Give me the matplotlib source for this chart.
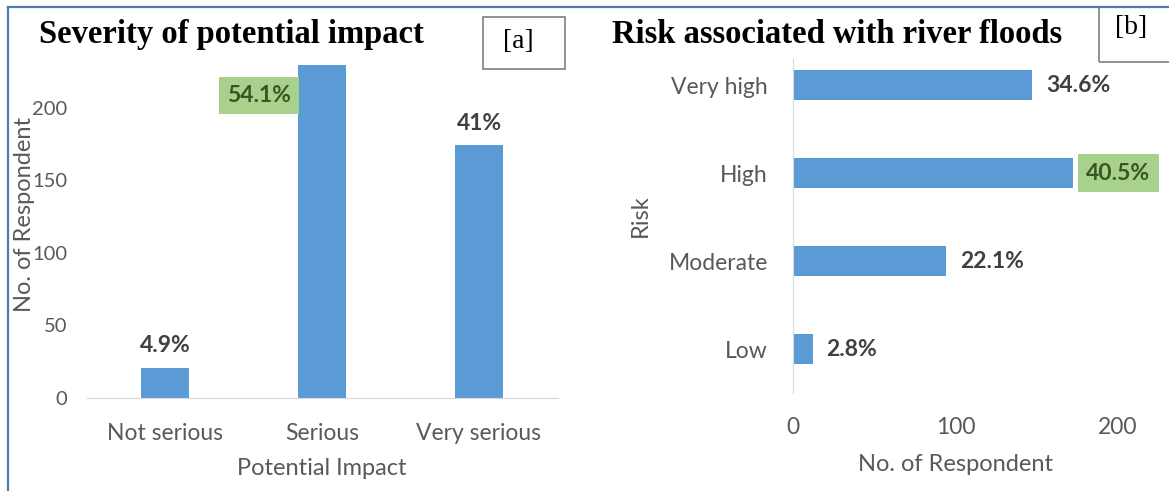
#!/usr/bin/env python3
"""Two Excel-style bar charts: severity of impact and flood risk"""
import matplotlib
matplotlib.use('Agg')
import matplotlib.pyplot as plt
from matplotlib.patches import Rectangle
from matplotlib.lines import Line2D

# Panel [a]
impact_cats = ['Not serious', 'Serious', 'Very serious']
impact_counts = [21, 229, 174]
impact_pct = ['4.9%', '54.1%', '41%']

# Panel [b] (bottom to top)
risk_cats = ['Low', 'Moderate', 'High', 'Very high']
risk_counts = [12, 94, 172, 147]
risk_pct = ['2.8%', '22.1%', '40.5%', '34.6%']

BLUE = '#5B9BD5'
GREEN = '#A9D18E'
GREY = '#595959'
DARK = '#404040'
SANS = ['Lato', 'DejaVu Sans']
SERIF = 'Liberation Serif'
TICK = 16.5
LAB = 17

plt.rcParams['font.family'] = SANS

fig = plt.figure(figsize=(11.69, 4.91), dpi=100)
W, H = 1169, 491


def fx(px):
    return px / W


def fy(py):
    return 1 - py / H


# ---- panel a ----
ax1 = fig.add_axes([fx(86.5), fy(398), 471 / W, 334 / H])
x = range(len(impact_cats))
ax1.bar(x, impact_counts, width=0.31, color=BLUE)
ax1.set_xlim(-0.5, 2.5)
ax1.set_ylim(0, 230)
ax1.set_yticks([0, 50, 100, 150, 200])
ax1.set_xticks(list(x))
ax1.set_xticklabels(impact_cats)
for s in ['top', 'right', 'left']:
    ax1.spines[s].set_visible(False)
ax1.spines['bottom'].set_color('#d9d9d9')
ax1.tick_params(axis='both', length=0, colors=GREY, labelsize=TICK)
ax1.tick_params(axis='y', pad=14, labelsize=14.5)
ax1.tick_params(axis='x', pad=18)
ax1.set_xlabel('Potential Impact', fontsize=LAB, color=GREY, labelpad=10)
ax1.set_ylabel('No. of Respondent', fontsize=LAB, color=GREY)
ax1.yaxis.set_label_coords((35 - 86.5) / 471, (398 - 215) / 334)

for i, (v, p) in enumerate(zip(impact_counts, impact_pct)):
    if i == 1:
        ax1.annotate(p, (i - 0.155, 208), xytext=(-5, 0), textcoords='offset points',
                     ha='right', va='center', fontsize=TICK, fontweight='bold',
                     color='#375623', annotation_clip=False,
                     bbox=dict(boxstyle='square,pad=0.35', fc=GREEN, ec='none'))
    else:
        ax1.annotate(p, (i, v), xytext=(0, 8), textcoords='offset points',
                     ha='center', va='bottom', fontsize=TICK, fontweight='bold',
                     color=DARK)

# ---- panel b ----
ax2 = fig.add_axes([fx(793), fy(393), 325 / W, 352 / H])
y = range(len(risk_cats))
ax2.barh(y, risk_counts, height=0.34, color=BLUE)
ax2.set_ylim(-0.5, 3.5)
ax2.set_xlim(0, 200)
ax2.set_xticks([0, 100, 200])
ax2.set_yticks(list(y))
ax2.set_yticklabels(risk_cats)
for s in ['top', 'right', 'bottom']:
    ax2.spines[s].set_visible(False)
ax2.spines['left'].set_color('#d9d9d9')
ax2.spines['left'].set_bounds(-0.5, 3.3)
ax2.tick_params(axis='both', length=0, colors=GREY, labelsize=TICK)
ax2.tick_params(axis='y', pad=18)
ax2.tick_params(axis='x', pad=17)
ax2.set_xlabel('No. of Respondent', fontsize=LAB, color=GREY, labelpad=12)
ax2.set_ylabel('Risk', fontsize=LAB, color=GREY)
ax2.yaxis.set_label_coords((651 - 793) / 325, (393 - 216) / 352)

for i, (v, p) in enumerate(zip(risk_counts, risk_pct)):
    if i == 2:
        ax2.annotate(p, (v, i), xytext=(10, 0), textcoords='offset points',
                     ha='left', va='center', fontsize=TICK, fontweight='bold',
                     color='#375623', annotation_clip=False,
                     bbox=dict(boxstyle='square,pad=0.35', fc=GREEN, ec='none'))
    else:
        ax2.annotate(p, (v, i), xytext=(10, 0), textcoords='offset points',
                     ha='left', va='center', fontsize=TICK, fontweight='bold',
                     color=DARK, annotation_clip=False)

# ---- titles, tags and frame ----
fig.text(fx(39), fy(43), 'Severity of potential impact', family=SERIF,
         fontweight='bold', fontsize=23.5, va='baseline', ha='left')
fig.text(fx(612), fy(43), 'Risk associated with river floods', family=SERIF,
         fontweight='bold', fontsize=23.5, va='baseline', ha='left')

fig.add_artist(Rectangle((fx(483), fy(69)), 82 / W, 52 / H, transform=fig.transFigure,
                         fill=False, ec='#7f7f7f', lw=1.2))
fig.text(fx(518), fy(42), '[a]', family=SERIF, fontsize=20, ha='center', va='center')
fig.add_artist(Rectangle((fx(1099), fy(62)), 80 / W, 55 / H, transform=fig.transFigure,
                         fill=False, ec='#7f7f7f', lw=1.2, clip_on=False))
fig.text(fx(1131), fy(27), '[b]', family=SERIF, fontsize=20, ha='center', va='center')

fig.add_artist(Line2D([fx(8), fx(8)], [0, fy(7)], transform=fig.transFigure,
                      color='#4F7BB0', lw=1.6))
fig.add_artist(Line2D([fx(8), 1], [fy(7), fy(7)], transform=fig.transFigure,
                      color='#4F7BB0', lw=1.6))

fig.savefig('out.png', dpi=100)
